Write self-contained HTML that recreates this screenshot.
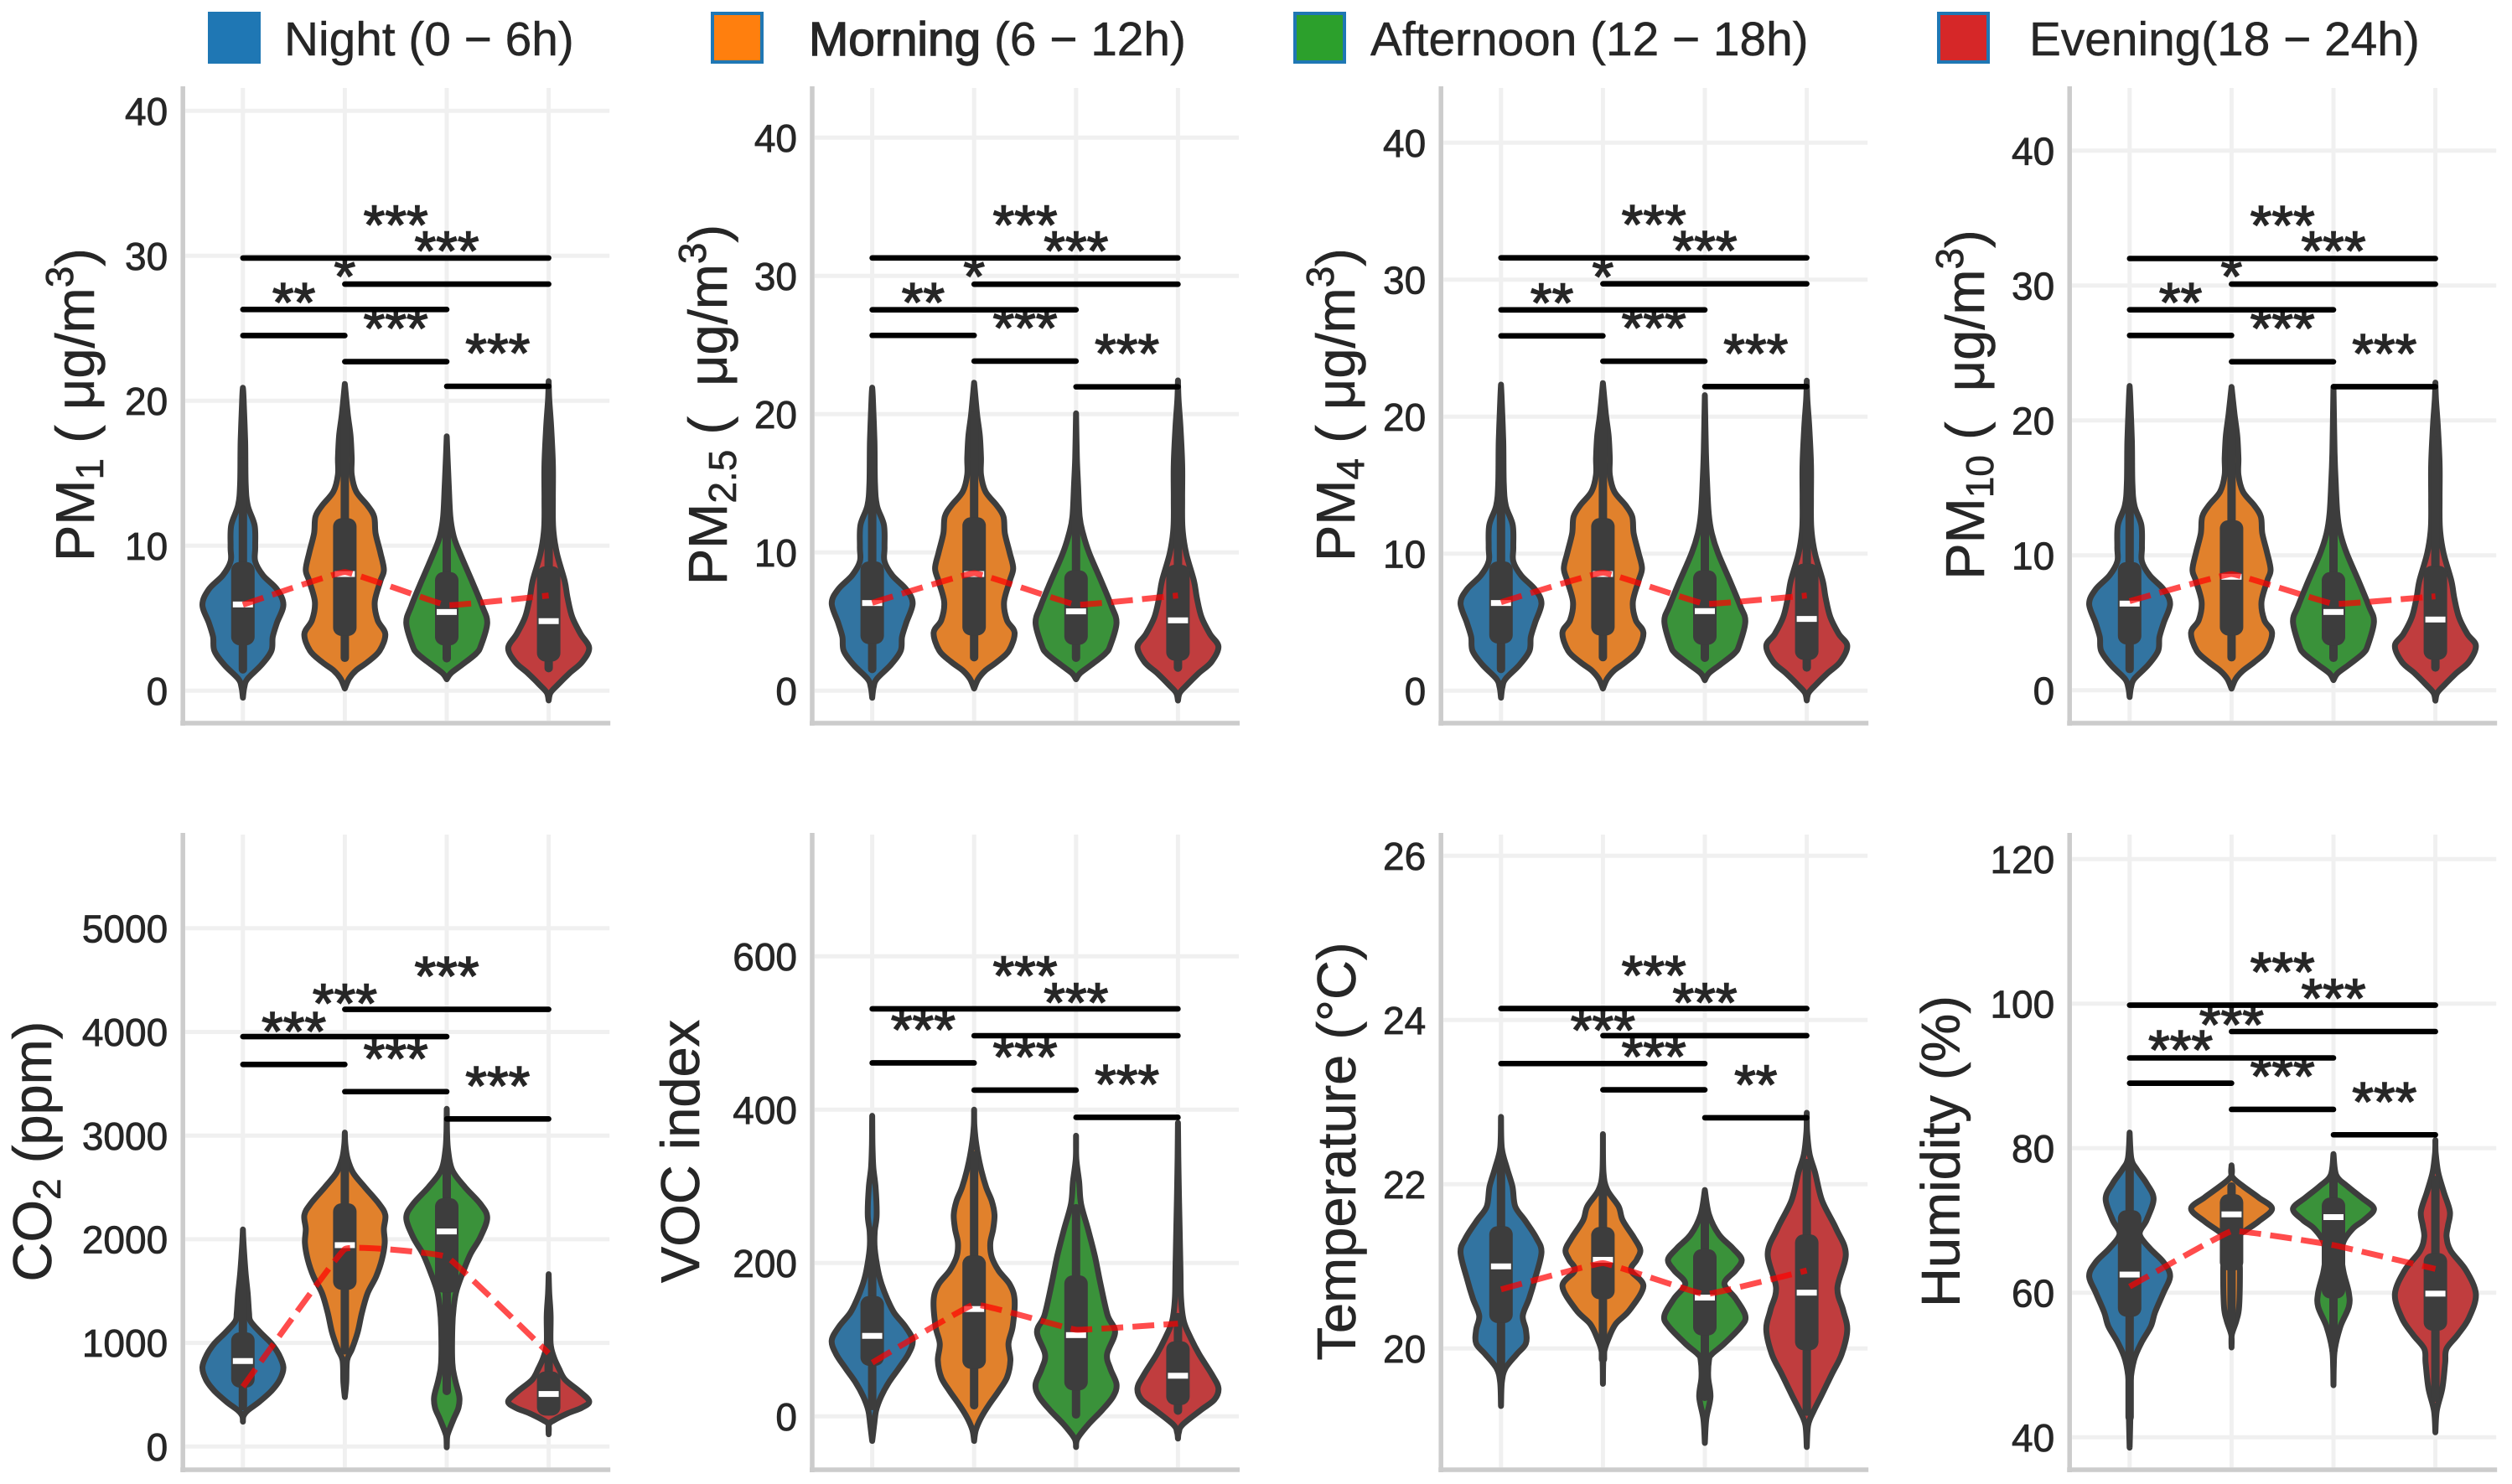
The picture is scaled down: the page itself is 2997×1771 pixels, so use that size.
<!DOCTYPE html>
<html lang="en">
<head>
<meta charset="utf-8">
<title>Air quality violin plots by time of day</title>
<style>
html,body{margin:0;padding:0;background:#fff;}
#chart{display:block;width:2997px;height:1771px;}
text{font-family:"Liberation Sans",Arial,sans-serif;fill:#262626;white-space:pre;}
</style>
</head>
<body>
<svg id="chart" xmlns="http://www.w3.org/2000/svg" width="2997" height="1771" viewBox="0 0 2997 1771"></svg>
<script>
const periods = ["Night (0 − 6h)", " (6 − 12h)", "Afternoon (12 − 18h)", "Evening(18 − 24h)"];
const periodEmphasis = ["", "Morning", "", ""];
const sharedDensityA = [0,5,17,67,102,107,122,145,122,72,44,44,42,17,10,8,2,0];
const sharedDensityB = [0,15,40,80,122,142,115,105,125,137,125,108,103,80,40,24,24,20,10,0];
const sharedDensityC = [0,15,55,105,123,145,127,90,47,25,13,7,3,0];
const sharedDensityD = [0,7,34,74,119,144,114,84,67,57,29,16,15,15,9,2,0];

/* PM1 */
const pm1Ticks = [0,10,20,30,40];
const pm1Y = [
 [-0.48,.25,.83,1.79,2.75,3.72,4.68,5.93,7.0,7.96,8.92,9.88,11.4,12.8,14.3,17.2,20.3,20.9],
 [.15,.83,1.41,1.98,2.76,3.91,4.87,6.13,7.57,8.34,9.5,10.85,12.0,12.77,13.74,14.9,16.05,17.6,19.13,21.16],
 [.79,1.21,1.79,2.56,3.14,4.68,5.84,7.57,9.5,10.65,12.0,14.3,16.05,17.55],
 [-.67,-.13,.44,1.21,1.98,2.95,3.91,5.07,6.42,7.57,9.5,11.23,13.35,15.66,18.17,20.1,21.35]];
const pm1Density = [sharedDensityA,sharedDensityB,sharedDensityC,sharedDensityD];
const pm1Q1 = [3.14,3.78,3.14,2.02];
const pm1Median = [5.95,8.05,5.43,4.8];
const pm1Q3 = [8.88,11.9,8.19,8.59];
const pm1Low = [1.18,1.98,1.95,1.27];
const pm1High = [16.05,19.3,14.3,17.6];
const pm1Mean = [5.93,8.19,5.9,6.57];
const pm1SigPairs = [[0,1],[1,2],[2,3],[0,2],[1,3],[0,3]];
const pm1SigY = [24.5,22.7,21,26.3,28.05,29.85];
const pm1SigLabels = ["**","***","***","*","***","***"];

/* PM2.5 */
const pm25Ticks = [0,10,20,30,40];
const pm25Y = [
 [-.51,.26,.87,1.88,2.89,3.9,4.91,6.32,7.33,8.34,9.35,10.36,11.98,13.39,15.0,18.04,21.27,21.92],
 [.16,.87,1.47,2.08,2.89,4.2,5.11,6.42,7.94,8.85,9.96,11.37,12.59,13.39,14.4,15.62,16.83,18.44,20.06,22.28],
 [.83,1.27,1.88,2.69,3.29,4.91,6.12,7.94,9.96,11.37,12.59,15.0,16.83,20.06],
 [-.71,-.14,.46,1.27,2.08,3.19,4.1,5.31,6.73,7.94,9.96,11.78,14.0,16.42,19.05,21.07,22.44]];
const pm25Density = [sharedDensityA,sharedDensityB,sharedDensityC,sharedDensityD];
const pm25Q1 = [3.37,4.0,3.33,2.18];
const pm25Median = [6.34,8.44,5.74,5.09];
const pm25Q3 = [9.35,12.55,8.71,9.11];
const pm25Low = [1.27,2.12,2.08,1.37];
const pm25High = [16.83,20.2,15,18.44];
const pm25Mean = [6.36,8.5,6.22,6.89];
const pm25SigPairs = [[0,1],[1,2],[2,3],[0,2],[1,3],[0,3]];
const pm25SigY = [25.7,23.84,21.98,27.55,29.4,31.3];
const pm25SigLabels = ["**","***","***","*","***","***"];

/* PM4 */
const pm4Ticks = [0,10,20,30,40];
const pm4Y = [
 [-.51,.27,.88,1.9,2.92,3.93,4.95,6.38,7.4,8.42,9.44,10.46,12.09,13.52,15.15,18.21,21.47,22.34],
 [.16,.88,1.49,2.1,2.92,4.24,5.16,6.48,8.01,8.93,10.05,11.48,12.7,13.52,14.54,15.76,16.98,18.61,20.24,22.45],
 [.77,1.28,1.9,2.71,3.32,5.06,6.18,8.01,10.05,11.48,12.9,15.15,17.39,21.57],
 [-.71,-.14,.47,1.28,2.1,3.28,4.14,5.36,6.79,8.01,10.05,11.89,14.13,16.57,19.23,21.26,22.63]];
const pm4Density = [sharedDensityA,sharedDensityB,[0,15,55,105,123,145,127,90,47,25,14,8,4,0],sharedDensityD];
const pm4Q1 = [3.45,4.04,3.36,2.26];
const pm4Median = [6.4,8.52,5.81,5.24];
const pm4Q3 = [9.44,12.6,8.79,9.28];
const pm4Low = [1.28,2.14,2.1,1.39];
const pm4High = [16.98,20.4,15.15,18.61];
const pm4Mean = [6.46,8.62,6.34,6.95];
const pm4SigPairs = [[0,1],[1,2],[2,3],[0,2],[1,3],[0,3]];
const pm4SigY = [25.9,24.05,22.2,27.8,29.7,31.6];
const pm4SigLabels = ["**","***","***","*","***","***"];

/* PM10 */
const pm10Ticks = [0,10,20,30,40];
const pm10Y = [
 [-.5,.23,.85,1.88,2.92,3.95,4.99,6.4,7.47,8.51,9.54,10.58,12.24,13.69,15.34,18.45,21.76,22.55],
 [.12,.85,1.45,2.09,2.92,4.27,5.2,6.54,8.1,8.92,10.17,11.61,12.86,13.69,14.72,15.96,17.2,18.86,20.52,22.48],
 [.75,1.26,1.88,2.71,3.33,5.09,6.23,8.1,10.17,11.61,13.06,15.34,17.62,22.48],
 [-.77,-.19,.43,1.26,2.09,3.29,4.16,5.4,6.85,8.1,10.17,12.03,14.31,16.79,19.48,21.55,22.8]];
const pm10Density = [sharedDensityA,sharedDensityB,[0,15,55,105,123,145,127,90,47,25,14,8,4,0],sharedDensityD];
const pm10Q1 = [3.4,4.06,3.33,2.26];
const pm10Median = [6.42,8.41,5.8,5.24];
const pm10Q3 = [9.5,12.6,8.76,9.23];
const pm10Low = [1.26,2.13,2.09,1.37];
const pm10High = [17.2,20.7,15.34,18.86];
const pm10Mean = [6.6,8.61,6.4,6.96];
const pm10SigPairs = [[0,1],[1,2],[2,3],[0,2],[1,3],[0,3]];
const pm10SigY = [26.3,24.35,22.5,28.2,30.1,32];
const pm10SigLabels = ["**","***","***","*","***","***"];

/* CO2 */
const co2Ticks = [0,1000,2000,3000,4000,5000];
const co2Y = [
 [240,294,348,428,536,644,765,887,994,1102,1210,1291,1479,1695,1964,2094],
 [477,617,833,940,1102,1291,1479,1641,1803,1964,2099,2234,2342,2503,2638,2773,2908,3029],
 [-8,78,132,267,375,482,644,806,1156,1345,1506,1695,1857,2018,2207,2342,2503,2665,2854,3042,3258],
 [119,213,253,321,375,437,536,644,752,860,994,1264,1479,1663]];
const co2Density = [
 [0,2,17,57,102,132,145,129,102,62,27,22,17,9,2,0],
 [0,5,8,25,45,60,80,110,130,140,137,142,120,70,30,10,2,0],
 [0,1,5,25,42,45,30,20,20,25,35,60,85,120,145,120,65,20,5,1,0],
 [0,1,19,69,119,145,109,59,37,19,7,7,2,0]];
const co2Q1 = [569,1512,1485,299];
const co2Median = [825,1943,2075,507];
const co2Q3 = [1102,2347,2396,725];
const co2Low = [348,887,496,299];
const co2High = [1695,2786,2773,1021];
const co2Mean = [577,1905,1830,900];
const co2SigPairs = [[0,1],[1,2],[2,3],[0,2],[1,3]];
const co2SigY = [3686,3424,3161,3955,4218];
const co2SigLabels = ["***","***","***","***","***"];

/* VOC */
const vocTicks = [0,200,400,600];
const vocY = [
 [-32,-11,8,26,44,62,81,99,117,135,153,172,190,219,241,263,299,325,354,392],
 [-32,-18,-3,15,33,51,73,95,117,152,172,190,208,226,244,263,281,299,325,354,379,400],
 [-40,-29,-11,8,26,42,62,81,110,132,172,208,244,277,306,336,366],
 [-29,-21,-11,8,22,37,55,81,102,124,153,190,244,317,383]];
const vocDensity = [
 [0,7,14,32,59,94,129,145,119,79,54,34,21,9,9,16,12,4,1,0],
 [0,6,23,53,88,118,130,123,138,145,128,88,63,58,68,73,63,43,23,8,1,0],
 [0,5,43,93,133,145,123,111,140,113,88,68,43,18,11,1,0],
 [0,3,16,81,131,145,121,76,46,21,11,9,6,2,0]];
const vocQ1 = [66,62,34,15];
const vocMedian = [105,140,106,53];
const vocQ3 = [157,210,184,98];
const vocLow = [8,9,-3,2];
const vocHigh = [226,346,277,135];
const vocMean = [70,146,113,121];
const vocSigPairs = [[0,1],[1,2],[2,3],[1,3],[0,3]];
const vocSigY = [461,425.5,390,496.5,531.5];
const vocSigLabels = ["***","***","***","***","***"];

/* Temperature */
const tempTicks = [20,22,24,26];
const tempY = [
 [19.3,19.59,19.76,19.93,20.06,20.23,20.4,20.61,20.84,21.17,21.35,21.56,21.73,21.97,22.2,22.44,22.82],
 [19.57,19.93,20.13,20.3,20.47,20.76,20.95,21.08,21.2,21.35,21.56,21.73,21.93,22.14,22.61],
 [18.85,19.14,19.41,19.65,19.86,19.93,20.06,20.27,20.4,20.61,20.79,20.95,21.08,21.22,21.39,21.63,21.93],
 [18.8,19.07,19.24,19.41,19.69,19.93,20.23,20.47,20.74,21.15,21.46,21.8,22.14,22.37,22.65,22.87]];
const tempDensity = [
 [0,3,16,56,89,89,78,101,121,145,126,86,51,41,21,3,0],
 [0,3,21,46,96,145,101,121,134,111,71,56,16,2,0],
 [0,5,20,12,15,25,70,130,145,110,70,110,132,100,50,15,0],
 [0,5,25,50,90,125,145,130,110,140,105,55,30,10,1,0]];
const tempQ1 = [20.31,20.6,20.16,19.98];
const tempMedian = [21.0,21.08,20.62,20.68];
const tempQ3 = [21.49,21.48,21.21,21.39];
const tempLow = [19.59,19.82,19.36,19.18];
const tempHigh = [22.34,22.1,21.76,22.31];
const tempMean = [20.72,21.04,20.66,20.95];
const tempSigPairs = [[1,2],[2,3],[0,2],[1,3],[0,3]];
const tempSigY = [23.15,22.81,23.47,23.81,24.14];
const tempSigLabels = ["***","**","***","***","***"];

/* Humidity */
const humTicks = [40,60,80,100,120];
const humY = [
 [38.57,43.72,47.6,50.7,53.02,55.35,57.29,60,62.33,64.26,66.2,68.14,70.08,72.98,75.12,77.05,78.6,82.17],
 [52.44,54.19,56.12,58.06,63.1,64.65,67.75,68.53,69.88,71.63,73.18,74.73,76.09,77.64],
 [47.21,49.53,52.25,55.35,58.06,60,62.71,64.65,66.98,68.91,70.08,71.63,73.18,74.73,76.28,79.19],
 [40.7,43.72,46.82,50.31,52.25,54.19,56.51,59.81,63.1,65.81,67.75,69.3,71.24,73.95,76.67,79.38,81.12]];
const humDensity = [
 [0,3,3,16,41,76,91,121,145,121,71,36,61,86,61,26,6,0],
 [0,1,17,27,30,27,25,47,97,145,97,42,2,0],
 [0,1,5,25,55,55,37,30,35,70,110,145,100,50,10,0],
 [0,5,25,35,40,80,120,145,110,55,40,45,52,30,10,1,0]];
const humQ1 = [56.7,63.1,59.22,54.77];
const humMedian = [62.52,70.85,70.47,59.88];
const humQ3 = [71.43,73.64,73.18,65.5];
const humLow = [42.2,55.3,51.5,44.9];
const humHigh = [78.2,75.3,76.67,76.2];
const humMean = [60.85,68.53,66.59,63.3];
const humSigPairs = [[0,1],[1,2],[2,3],[0,2],[1,3],[0,3]];
const humSigY = [89,85.37,81.86,92.5,96.15,99.8];
const humSigLabels = ["***","***","***","***","***","***"];

const panelKeys = ["pm1","pm25","pm4","pm10","co2","voc","temperature","humidity"];
const panelSeries = [
 {ticks:pm1Ticks,y:pm1Y,d:pm1Density,q1:pm1Q1,med:pm1Median,q3:pm1Q3,lo:pm1Low,hi:pm1High,mean:pm1Mean,pairs:pm1SigPairs,sig:pm1SigY,lab:pm1SigLabels},
 {ticks:pm25Ticks,y:pm25Y,d:pm25Density,q1:pm25Q1,med:pm25Median,q3:pm25Q3,lo:pm25Low,hi:pm25High,mean:pm25Mean,pairs:pm25SigPairs,sig:pm25SigY,lab:pm25SigLabels},
 {ticks:pm4Ticks,y:pm4Y,d:pm4Density,q1:pm4Q1,med:pm4Median,q3:pm4Q3,lo:pm4Low,hi:pm4High,mean:pm4Mean,pairs:pm4SigPairs,sig:pm4SigY,lab:pm4SigLabels},
 {ticks:pm10Ticks,y:pm10Y,d:pm10Density,q1:pm10Q1,med:pm10Median,q3:pm10Q3,lo:pm10Low,hi:pm10High,mean:pm10Mean,pairs:pm10SigPairs,sig:pm10SigY,lab:pm10SigLabels},
 {ticks:co2Ticks,y:co2Y,d:co2Density,q1:co2Q1,med:co2Median,q3:co2Q3,lo:co2Low,hi:co2High,mean:co2Mean,pairs:co2SigPairs,sig:co2SigY,lab:co2SigLabels},
 {ticks:vocTicks,y:vocY,d:vocDensity,q1:vocQ1,med:vocMedian,q3:vocQ3,lo:vocLow,hi:vocHigh,mean:vocMean,pairs:vocSigPairs,sig:vocSigY,lab:vocSigLabels},
 {ticks:tempTicks,y:tempY,d:tempDensity,q1:tempQ1,med:tempMedian,q3:tempQ3,lo:tempLow,hi:tempHigh,mean:tempMean,pairs:tempSigPairs,sig:tempSigY,lab:tempSigLabels},
 {ticks:humTicks,y:humY,d:humDensity,q1:humQ1,med:humMedian,q3:humQ3,lo:humLow,hi:humHigh,mean:humMean,pairs:humSigPairs,sig:humSigY,lab:humSigLabels}
];
/* y-axis titles: [text, 0 normal | 1 subscript | 2 superscript] */
const panelTitles = [
 [["PM",0],["1",1],[" ( μg/m",0],["3",2],[")",0]],
 [["PM",0],["2.5",1],[" (  μg/m",0],["3",2],[")",0]],
 [["PM",0],["4",1],[" ( μg/m",0],["3",2],[")",0]],
 [["PM",0],["10",1],[" (  μg/m",0],["3",2],[")",0]],
 [["CO",0],["2",1],[" (ppm)",0]],
 [["VOC index",0]],
 [["Temperature (°C)",0]],
 [["Humidity (%)",0]]
];

/* layout */
const panelLeft = [218.2,969,1719.2,2469.2,218.2,969,1719.2,2469.2];
const titleBaseline = [112,867,1616,2367,61,834,1617,2337.5];
const axisDomain = [[0,40],[0,40],[0,40],[0,40],[0,5000],[0,600],[20,26],[40,120]];
const axisRange = [[824.3,132.3],[824.3,164.3],[824.3,170.3],[823.7,179.7],[1726.3,1107.8],[1690.3,1141.3],[1609.3,1021.3],[1715.3,1025.3]];
const rowTop = [103,994];
const rowBottom = [863,1754];
const panelWidth = 510;
const catOffset = 71.6, catStep = 121.6, maxHalfWidth = 48.3;
const fillColors = ["#3274a1","#e1812c","#3a923a","#c03d3e"];
const patchColors = ["#1f77b4","#ff7f0e","#2ca02c","#d62728"];
const legendPatchX = [248,848,1543,2311];
const legendTextX = [339,965,1635,2421];

const svg = document.getElementById('chart');
const NS = 'http://www.w3.org/2000/svg';
function make(tag, attrs, parent){
  const e = document.createElementNS(NS, tag);
  for (const k in attrs) e.setAttribute(k, attrs[k]);
  (parent || svg).appendChild(e);
  return e;
}
function smoothSide(pts){
  let s = '';
  for (let i = 0; i < pts.length - 1; i++){
    const p0 = pts[Math.max(i-1,0)], p1 = pts[i], p2 = pts[i+1], p3 = pts[Math.min(i+2,pts.length-1)];
    const c1x = p1[0] + (p2[0]-p0[0])/6, c1y = p1[1] + (p2[1]-p0[1])/6;
    const c2x = p2[0] - (p3[0]-p1[0])/6, c2y = p2[1] - (p3[1]-p1[1])/6;
    s += ' C' + c1x.toFixed(1) + ' ' + c1y.toFixed(1) + ' ' + c2x.toFixed(1) + ' ' + c2y.toFixed(1) + ' ' + p2[0].toFixed(1) + ' ' + p2[1].toFixed(1);
  }
  return s;
}

/* legend */
periods.forEach(function(label, i){
  const patch = make('rect', {x:legendPatchX[i]+2, y:16, width:59, height:58, fill:patchColors[i], stroke:'#1f77b4', 'stroke-width':4});
  
  
  const t = make('text', {x:legendTextX[i], y:66, 'font-size':56.8, stroke:'#262626', 'stroke-width':0.5});
  
  
  if (periodEmphasis[i]) {
    const em = make('tspan', {stroke:'#262626', 'stroke-width':1.4}, t);
    em.textContent = periodEmphasis[i];
    const rest = make('tspan', {}, t);
    rest.textContent = label;
  } else {
    t.textContent = label;
  }
});

panelSeries.forEach(function(s, p){
  const row = p < 4 ? 0 : 1;
  const left = panelLeft[p];
  const dom = axisDomain[p], rng = axisRange[p];
  const yOf = function(v){ return rng[0] + (v - dom[0]) * (rng[1] - rng[0]) / (dom[1] - dom[0]); };
  const xOf = function(i){ return left + catOffset + i * catStep; };
  const key = panelKeys[p];

  const g = make('g', {});
  
  

  /* grid */
  s.ticks.forEach(function(t){
    const gl = make('line', {x1:left+3, x2:left+panelWidth-1, y1:yOf(t), y2:yOf(t), stroke:'#f0f0f0', 'stroke-width':5}, g);
    
    
  });
  for (let i = 0; i < 4; i++){
    const gv = make('line', {x1:xOf(i), x2:xOf(i), y1:rowTop[row]+2, y2:rowBottom[row]-3, stroke:'#f0f0f0', 'stroke-width':5}, g);
    
    
  }
  /* spines */
  const sl = make('line', {x1:left, x2:left, y1:rowTop[row], y2:rowBottom[row]+3, stroke:'#cccccc', 'stroke-width':5.5}, g);
  
  
  const sb = make('line', {x1:left-3, x2:left+panelWidth, y1:rowBottom[row], y2:rowBottom[row], stroke:'#cccccc', 'stroke-width':5.5}, g);
  
  

  /* tick labels */
  s.ticks.forEach(function(t){
    const tl = make('text', {x:left-18, y:yOf(t), dy:'0.36em', 'text-anchor':'end', 'font-size':46, stroke:'#262626', 'stroke-width':0.8}, g);
    
    
    tl.textContent = String(t);
  });

  /* y title */
  const cy = (rowTop[row] + rowBottom[row]) / 2;
  const bx = titleBaseline[p];
  const title = make('text', {x:bx, y:cy, 'text-anchor':'middle', 'font-size':65, stroke:'#262626', 'stroke-width':0.6, transform:'rotate(-90 ' + bx + ' ' + cy + ')', 'xml:space':'preserve'}, g);
  
  
  let level = 0;
  panelTitles[p].forEach(function(seg){
    const target = seg[1] === 1 ? 11 : seg[1] === 2 ? -25 : 0;
    const ts = make('tspan', {dy:target - level, 'font-size': seg[1] ? 46 : 65}, title);
    ts.textContent = seg[0];
    level = target;
  });

  /* violins */
  s.y.forEach(function(ys, i){
    const dens = s.d[i];
    const peak = Math.max.apply(null, dens);
    const cx = xOf(i);
    const right = ys.map(function(v, j){ return [cx + dens[j] / peak * maxHalfWidth, yOf(v)]; });
    const leftSide = ys.map(function(v, j){ return [cx - dens[j] / peak * maxHalfWidth, yOf(v)]; }).reverse();
    const d = 'M' + right[0][0].toFixed(1) + ' ' + right[0][1].toFixed(1) + smoothSide(right) + smoothSide(leftSide) + ' Z';
    const vg = make('g', {}, g);
    
    
    const body = make('path', {d:d, fill:fillColors[i], stroke:'#3d3d3d', 'stroke-width':7, 'stroke-linejoin':'round'}, vg);
    
    
    const wh = make('rect', {x:cx-5, width:10, y:yOf(s.hi[i]), height:yOf(s.lo[i])-yOf(s.hi[i]), rx:5, fill:'#3d3d3d'}, vg);
    
    
    const box = make('rect', {x:cx-14, width:28, y:yOf(s.q3[i]), height:yOf(s.q1[i])-yOf(s.q3[i]), rx:10, fill:'#3d3d3d'}, vg);
    
    
    const med = make('rect', {x:cx-12, width:24, y:yOf(s.med[i])-3.5, height:7, fill:'#ffffff'}, vg);
    
    
  });

  /* significance bars and stars */
  s.pairs.forEach(function(pair, k){
    const x1 = xOf(pair[0]), x2 = xOf(pair[1]), yy = yOf(s.sig[k]);
    const bar = make('line', {x1:x1, x2:x2, y1:yy, y2:yy, stroke:'#000000', 'stroke-width':6.6, 'stroke-linecap':'round'}, g);
    
    
    const st = make('text', {x:(x1+x2)/2, y:yy-17, 'text-anchor':'middle', 'font-size':66, stroke:'#262626', 'stroke-width':1.5}, g);
    
    
    st.textContent = s.lab[k];
  });

  /* mean line */
  const meanPts = s.mean.map(function(v, i){ return [xOf(i), yOf(v)]; });
  let md = 'M' + meanPts[0][0] + ' ' + meanPts[0][1];
  for (let i = 0; i < meanPts.length - 1; i++){
    const p0 = meanPts[Math.max(i-1,0)], p1 = meanPts[i], p2 = meanPts[i+1], p3 = meanPts[Math.min(i+2,meanPts.length-1)];
    const t = 0.035;
    md += ' C' + (p1[0]+(p2[0]-p0[0])*t) + ' ' + (p1[1]+(p2[1]-p0[1])*t) + ' ' + (p2[0]-(p3[0]-p1[0])*t) + ' ' + (p2[1]-(p3[1]-p1[1])*t) + ' ' + p2[0] + ' ' + p2[1];
  }
  const ml = make('path', {d:md, fill:'none', stroke:'#ff0000', 'stroke-opacity':0.7, 'stroke-width':7, 'stroke-dasharray':'26 11'}, g);
  
  
});
</script>
</body>
</html>
